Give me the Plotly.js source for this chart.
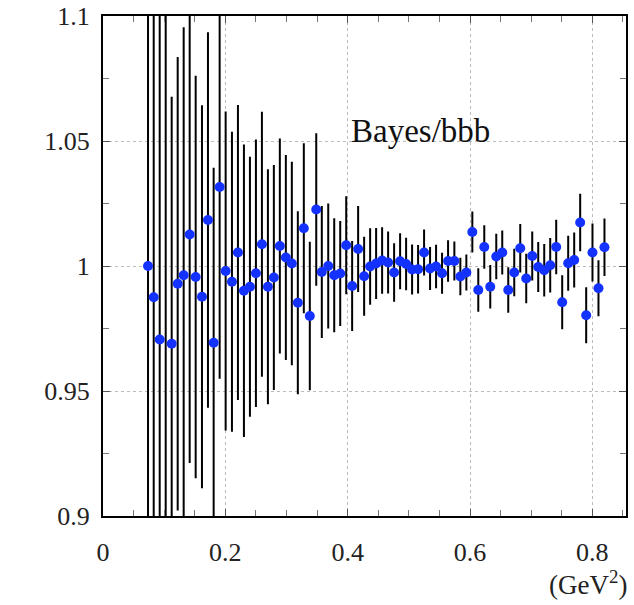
<!DOCTYPE html>
<html>
<head>
<meta charset="utf-8">
<script src="https://cdn.plot.ly/plotly-3.0.1.min.js"></script>
<style>html,body{margin:0;padding:0;background:#fff;}#chart{width:634px;height:605px;}</style>
</head>
<body>
<div id="chart"></div>
<script>
// t values (GeV^2)
var tValues = [0.0736,0.0829,0.0927,0.1025,0.1123,0.1221,0.1319,0.1417,0.1515,0.1618,
  0.1716,0.1809,0.1907,0.2005,0.2108,0.2206,0.2304,0.2402,0.2500,0.2598,
  0.2696,0.2793,0.2891,0.2989,0.3087,0.3185,0.3283,0.3381,0.3486,0.3577,
  0.3682,0.3780,0.3878,0.3976,0.4073,0.4171,0.4269,0.4367,0.4465,0.4563,
  0.4661,0.4759,0.4857,0.4955,0.5053,0.5151,0.5249,0.5347,0.5445,0.5543,
  0.5641,0.5744,0.5842,0.5940,0.6038,0.6135,0.6233,0.6331,0.6429,0.6527,
  0.6625,0.6723,0.6821,0.6919,0.7017,0.7115,0.7213,0.7311,0.7409,0.7507,
  0.7605,0.7703,0.7801,0.7899,0.8002,0.8100,0.8198];
// ratio Bayes/bbb
var ratio = [1.000,0.9875,0.9706,0.885,0.9689,0.9929,0.9963,1.0126,0.9956,0.9877,
  1.0184,0.9693,1.0316,0.998,0.9937,1.0054,0.9901,0.9917,0.9971,1.0087,
  0.9917,0.9954,1.008,1.0034,1.001,0.9853,1.0151,0.980,1.0226,0.9976,
  1.000,0.9963,0.997,1.0083,0.992,1.0068,0.9959,0.9998,1.001,1.0022,
  1.0014,0.9974,1.0019,1.0008,0.9986,0.9987,1.0054,0.999,0.9998,0.9971,
  1.002,1.002,0.9958,0.9974,1.0136,0.9904,1.0076,0.9917,1.0038,1.0054,
  0.9904,0.9974,1.0071,0.995,1.004,0.9996,0.9983,1.0003,1.0076,0.9855,
  1.0011,1.0024,1.0174,0.9803,1.0054,0.9911,1.0075];
// statistical uncertainty
var ratioErr = [0.14,0.13,0.14,0.25,0.0988,0.0907,0.0992,0.0914,0.0805,0.0766,
  0.0751,0.070,0.0767,0.0638,0.060,0.059,0.0585,0.052,0.0535,0.053,
  0.047,0.045,0.043,0.041,0.0407,0.0366,0.034,0.0297,0.0305,0.0264,
  0.025,0.0228,0.021,0.0196,0.018,0.0172,0.0158,0.0153,0.0142,0.0133,
  0.0124,0.0117,0.0112,0.0105,0.010,0.0097,0.0092,0.0086,0.0087,0.0082,
  0.0083,0.0078,0.0075,0.0072,0.0082,0.0087,0.0087,0.0087,0.0091,0.0088,
  0.0091,0.0095,0.0097,0.0099,0.0098,0.010,0.0105,0.0109,0.0109,0.0108,
  0.011,0.011,0.0115,0.0112,0.0116,0.0112,0.0115];
var xTicks = [0, 0.2, 0.4, 0.6, 0.8];
var xTickText = ['0', '0.2', '0.4', '0.6', '0.8'];
var yTicks = [0.9, 0.95, 1, 1.05, 1.1];
var yTickText = ['0.9', '0.95', '1', '1.05', '1.1'];
var label = "Bayes/bbb";
var unitLabel = "(GeV<sup>2</sup>)";

var trace = {
  x: tValues, y: ratio, type: 'scatter', mode: 'markers',
  marker: {color: 'rgb(20,50,255)', size: 10},
  error_y: {type: 'data', array: ratioErr, visible: true, color: 'black', thickness: 2, width: 0},
  cliponaxis: true, showlegend: false
};

var fontFam = 'Liberation Serif';
var axisCommon = {
  showline: true, linecolor: 'black', linewidth: 2, mirror: 'allticks',
  ticks: 'inside', ticklen: 7, tickcolor: '#555', tickwidth: 1,
  showgrid: true, gridcolor: '#bbbbbb', griddash: 'dot', gridwidth: 1,
  zeroline: false
};

var layout = {
  width: 634, height: 605,
  margin: {l: 103, r: 8, t: 16, b: 89},
  paper_bgcolor: 'white', plot_bgcolor: 'white',
  xaxis: Object.assign({}, axisCommon, {
    range: [0, 0.855], tickvals: xTicks, ticktext: xTickText,
    tickfont: {family: fontFam, size: 26, color: '#222'},
    minor: {dtick: 0.05, tick0: 0, ticks: 'inside', ticklen: 6, tickcolor: '#777', showgrid: false},
    ticklabelstandoff: 12
  }),
  yaxis: Object.assign({}, axisCommon, {
    range: [0.9, 1.1], tickvals: yTicks, ticktext: yTickText,
    tickfont: {family: fontFam, size: 26, color: '#222'},
    minor: {dtick: 0.025, tick0: 0.9, ticks: 'inside', ticklen: 6, tickcolor: '#777', showgrid: false},
    ticklabelstandoff: 6
  }),
  annotations: [
    {text: label, x: 0.519, y: 1.054, xref: 'x', yref: 'y', showarrow: false,
     font: {family: fontFam, size: 33, color: '#111'}},
    {text: unitLabel, x: 1.005, xref: 'paper', xanchor: 'right', y: -(583 - 516) / (516 - 16), yref: 'paper',
     yanchor: 'middle', showarrow: false,
     font: {family: fontFam, size: 27, color: '#222'}}
  ]
};

Plotly.newPlot('chart', [trace], layout, {staticPlot: true, displayModeBar: false});
</script>
</body>
</html>
